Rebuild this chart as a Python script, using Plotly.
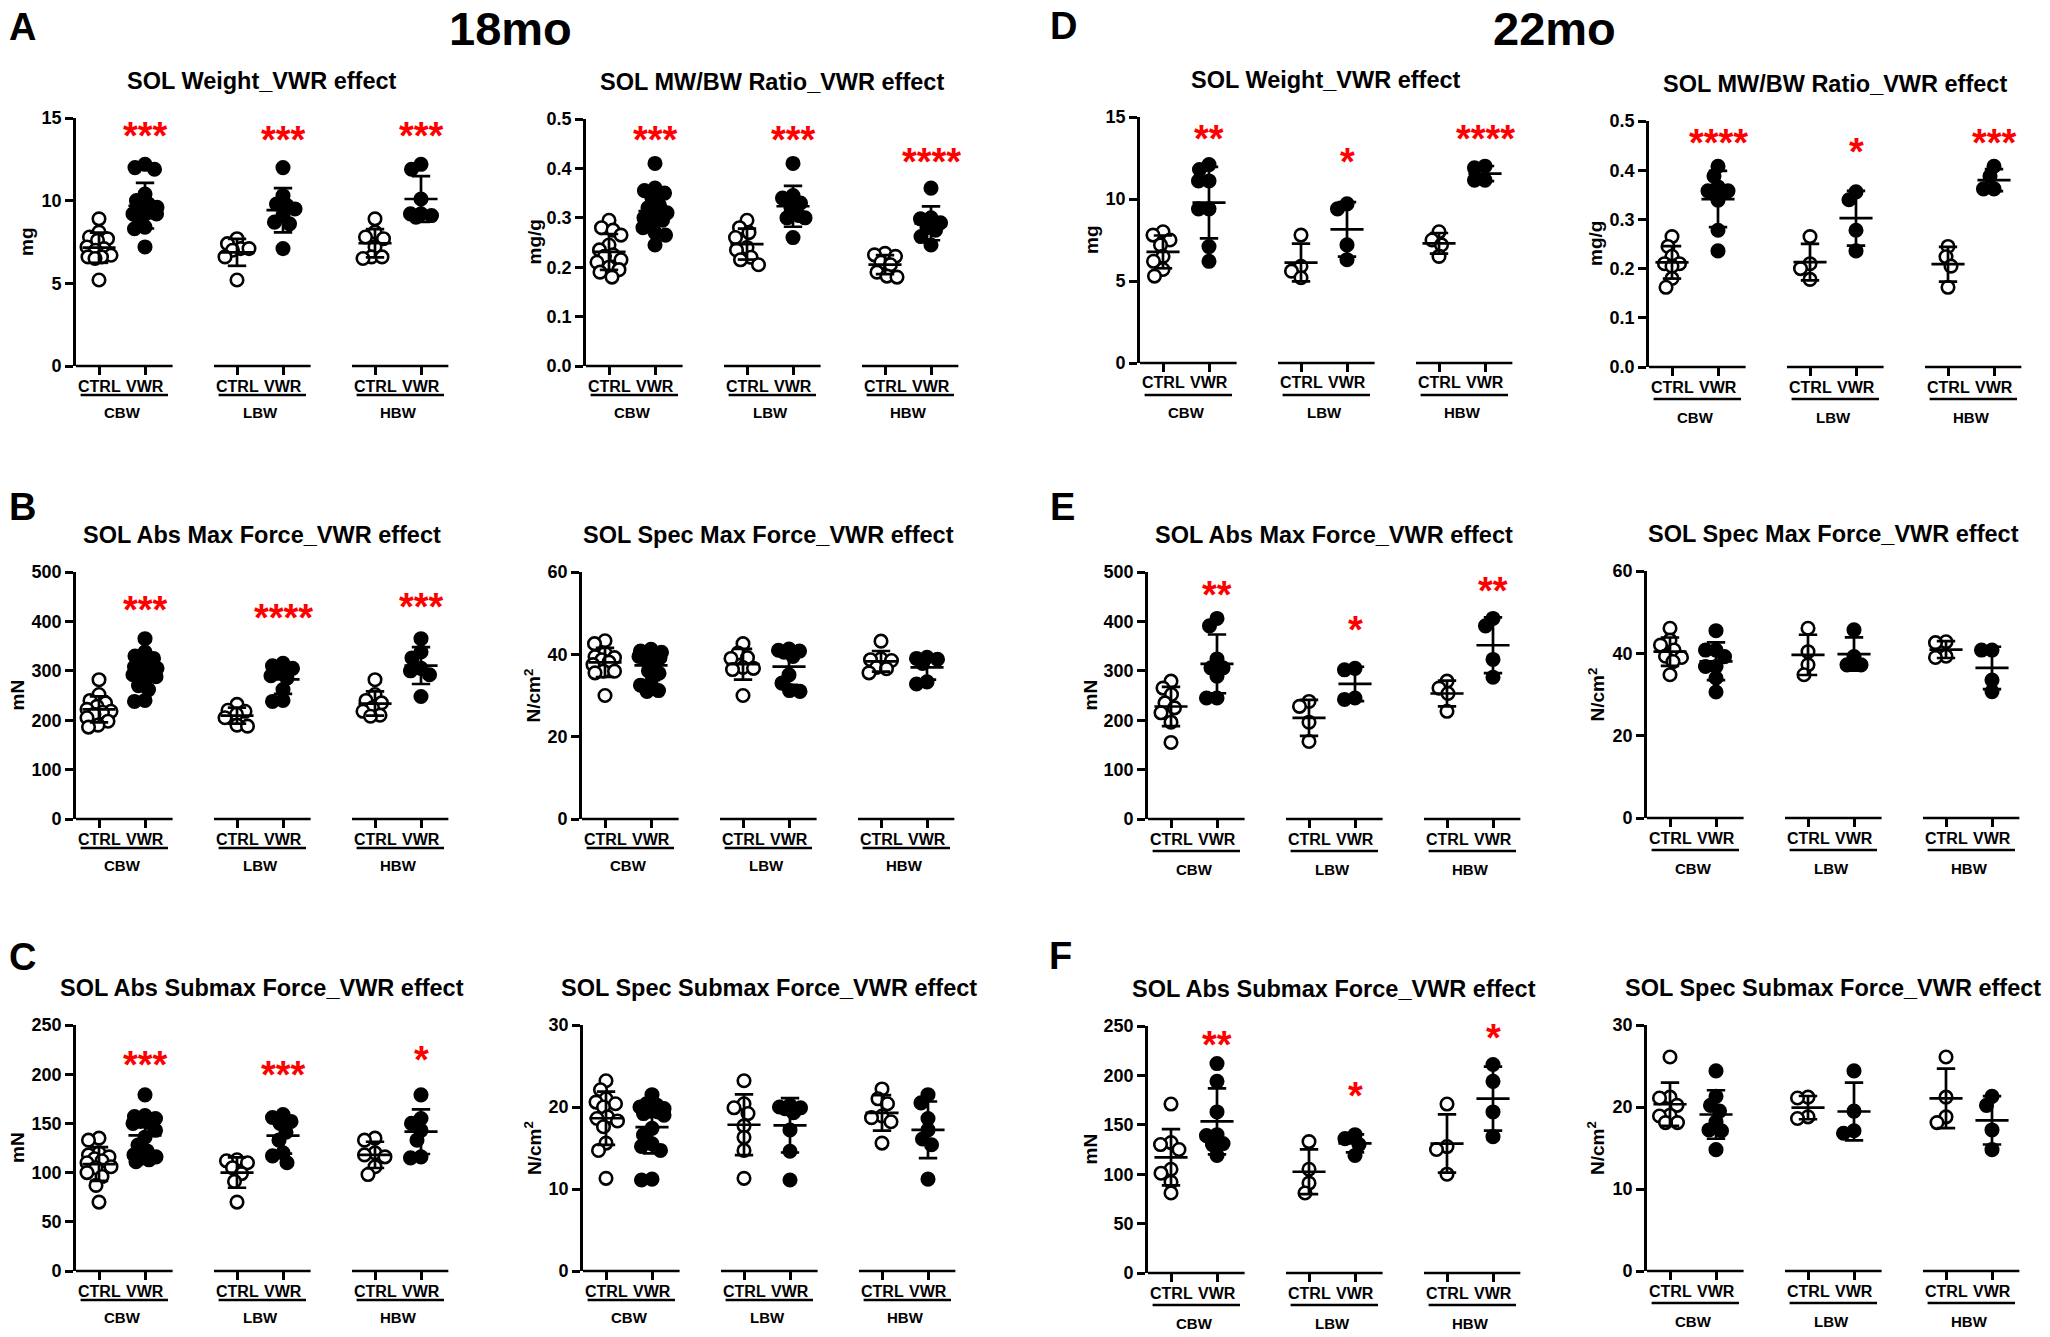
import numpy as np
import plotly.graph_objects as go

W, H = 2050, 1337
FONT = "Liberation Sans, Arial, sans-serif"

# ---------------- data ----------------
group_names = ["CBW", "LBW", "HBW"]
cond_names = ["CTRL", "VWR"]
# each list: CBW-CTRL, CBW-VWR, LBW-CTRL, LBW-VWR, HBW-CTRL, HBW-VWR

# 18 months
wt_18 = [[8.9, 8.1, 7.8, 7.7, 7.6, 7.2, 7.1, 7.0, 6.7, 6.6, 6.6, 6.5, 5.2],
         [12.2, 12.0, 11.9, 10.4, 10.0, 9.8, 9.6, 9.5, 9.3, 9.2, 9.2, 9.1, 9.0, 8.4, 8.3, 7.2],
         [7.7, 7.4, 7.1, 7.1, 7.0, 6.6, 5.2],
         [12.0, 10.3, 9.8, 9.7, 9.5, 9.1, 8.7, 8.6, 7.1],
         [8.9, 8.1, 7.8, 7.7, 7.2, 6.6, 6.6, 6.5],
         [12.2, 11.9, 10.1, 9.2, 9.1, 9.0, 9.2]]
ratio_18 = [[0.295, 0.28, 0.275, 0.265, 0.245, 0.235, 0.225, 0.222, 0.215, 0.21, 0.2, 0.195, 0.19, 0.18],
            [0.41, 0.36, 0.355, 0.35, 0.34, 0.325, 0.32, 0.31, 0.305, 0.3, 0.295, 0.29, 0.28, 0.27, 0.265, 0.245],
            [0.295, 0.28, 0.27, 0.26, 0.24, 0.235, 0.22, 0.215, 0.205],
            [0.41, 0.345, 0.34, 0.33, 0.32, 0.305, 0.3, 0.3, 0.26],
            [0.228, 0.225, 0.222, 0.21, 0.205, 0.19, 0.182, 0.18],
            [0.36, 0.3, 0.298, 0.29, 0.28, 0.275, 0.262, 0.245]]
absmax_18 = [[282, 252, 240, 235, 228, 222, 218, 216, 212, 205, 198, 190, 186],
             [365, 338, 330, 325, 312, 308, 305, 300, 298, 292, 288, 285, 270, 262, 240, 238],
             [232, 220, 218, 212, 205, 190, 188],
             [315, 310, 305, 300, 290, 285, 262, 240, 238],
             [282, 252, 240, 235, 225, 218, 210, 208],
             [365, 338, 326, 305, 300, 292, 248]]
specmax_18 = [[43.3, 42.6, 40.3, 39.4, 39.2, 38.7, 38.1, 37.5, 35.9, 35.9, 35.5, 30.0],
              [41.2, 40.8, 40.5, 40.3, 40.1, 39.8, 39.5, 39.2, 38.7, 38.2, 36.0, 35.4, 33.0, 32.5, 31.2, 31.0],
              [42.6, 40.3, 39.2, 39.0, 36.8, 36.6, 36.3, 30.0],
              [41.3, 41.0, 40.8, 40.5, 39.5, 35.0, 33.0, 31.2, 31.0],
              [43.2, 38.9, 38.7, 38.5, 36.8, 36.5, 35.5],
              [39.3, 39.0, 38.8, 37.8, 33.3, 32.8]]
abssub_18 = [[135, 133, 120, 118, 116, 114, 112, 110, 106, 105, 100, 96, 87, 70],
             [179, 158, 157, 155, 152, 151, 150, 143, 136, 128, 122, 118, 116, 115, 113, 111],
             [113, 112, 110, 105, 99, 91, 70],
             [159, 156, 152, 150, 141, 133, 120, 117, 110],
             [135, 133, 120, 118, 116, 106, 98],
             [179, 155, 150, 143, 133, 116, 115]]
specsub_18 = [[23.2, 22.1, 21.0, 20.6, 20.4, 20.0, 18.8, 18.6, 18.3, 17.6, 15.6, 14.7, 11.3],
              [21.5, 20.4, 20.2, 20.0, 19.8, 19.5, 19.4, 19.2, 19.0, 17.4, 16.6, 15.5, 15.2, 14.7, 11.2, 11.1],
              [23.2, 20.4, 19.9, 19.2, 17.7, 16.3, 14.7, 11.3],
              [20.2, 20.0, 19.9, 19.8, 19.3, 17.2, 14.6, 11.1],
              [22.2, 21.0, 20.4, 18.9, 18.7, 18.2, 15.6],
              [21.5, 20.5, 18.6, 17.2, 16.1, 15.4, 11.2]]

# 22 months
wt_22 = [[8.0, 7.8, 7.5, 7.2, 6.5, 6.2, 5.7, 5.3],
         [12.1, 11.8, 11.1, 11.1, 9.4, 9.4, 7.1, 6.2],
         [7.8, 5.9, 5.6, 5.2],
         [9.7, 9.4, 7.2, 6.3],
         [8.0, 7.5, 7.2, 6.5],
         [12.0, 11.9, 11.15, 11.15]]
ratio_22 = [[0.265, 0.245, 0.225, 0.21, 0.21, 0.205, 0.18, 0.162],
            [0.408, 0.388, 0.366, 0.358, 0.358, 0.339, 0.278, 0.236],
            [0.265, 0.21, 0.2, 0.178],
            [0.356, 0.34, 0.278, 0.236],
            [0.245, 0.224, 0.205, 0.162],
            [0.408, 0.388, 0.362, 0.362]]
absmax_22 = [[279, 265, 252, 235, 225, 215, 196, 155],
             [406, 391, 324, 306, 306, 289, 245, 245],
             [238, 228, 196, 157],
             [305, 302, 245, 242],
             [279, 265, 254, 218],
             [406, 391, 323, 287]]
specmax_22 = [[46.1, 43.2, 42.0, 40.8, 39.3, 39.0, 38.0, 34.8],
              [45.5, 40.8, 40.8, 39.2, 36.8, 36.8, 34.0, 30.6],
              [46.1, 40.4, 37.2, 34.8],
              [45.7, 39.2, 37.2, 37.2],
              [42.8, 42.6, 39.3, 39.0],
              [40.8, 40.8, 33.5, 30.7]]
abssub_22 = [[171, 132, 130, 125, 105, 101, 92, 81],
             [212, 194, 163, 140, 139, 131, 130, 119],
             [133, 105, 91, 81],
             [140, 136, 130, 119],
             [171, 128, 125, 100],
             [211, 194, 163, 138]]
specsub_22 = [[26.1, 21.2, 21.1, 20.2, 19.0, 18.9, 18.1, 18.1],
              [24.4, 21.3, 20.2, 19.5, 18.2, 17.2, 17.1, 14.8],
              [21.2, 21.1, 18.8, 18.6],
              [24.4, 19.5, 17.1, 16.8],
              [26.1, 21.2, 18.8, 18.1],
              [21.3, 20.2, 17.2, 14.8]]

# significance stars (above VWR of each body-weight group) and their heights
stars_wt_18 = ["***", "***", "***"];      stars_y_wt_18 = [14.2, 14.0, 14.2]
stars_ratio_18 = ["***", "***", "****"];  stars_y_ratio_18 = [0.468, 0.468, 0.424]
stars_absmax_18 = ["***", "****", "***"]; stars_y_absmax_18 = [434, 416, 439]
stars_abssub_18 = ["***", "***", "*"];    stars_y_abssub_18 = [214, 204, 220]
stars_wt_22 = ["**", "*", "****"];        stars_y_wt_22 = [13.98, 12.56, 13.98]
stars_ratio_22 = ["****", "*", "***"];    stars_y_ratio_22 = [0.466, 0.447, 0.466]
stars_absmax_22 = ["**", "*", "**"];      stars_y_absmax_22 = [464, 393, 472]
stars_abssub_22 = ["**", "*", "*"];       stars_y_abssub_22 = [236, 184.5, 243]

titles = ["SOL Weight_VWR effect", "SOL MW/BW Ratio_VWR effect",
          "SOL Abs Max Force_VWR effect", "SOL Spec Max Force_VWR effect",
          "SOL Abs Submax Force_VWR effect", "SOL Spec Submax Force_VWR effect"]
ytitles = ["mg", "mg/g", "mN", "N/cm<sup>2</sup>", "mN", "N/cm<sup>2</sup>"]
yaxis_max = [15, 0.5, 500, 60, 250, 30]
yaxis_dtick = [5, 0.1, 100, 20, 50, 10]
yaxis_fmt = ["d", ".1f", "d", "d", "d", "d"]

# ---------------- layout (pixel geometry) ----------------
# (left edge of plot, top, bottom, y-title offset, label column)
geom = [
    (76, 118, 366, 49, "L"), (586, 119, 366, 52, "L"),
    (76, 572, 819, 59, "L"), (582, 572, 819, 50, "L"),
    (76, 1025, 1271, 59, "L"), (583, 1025, 1271, 50, "L"),
    (1140, 117, 363, 48, "R"), (1649, 121, 367, 54, "R"),
    (1148, 572, 819, 58, "R"), (1647, 571, 818, 51, "R"),
    (1148, 1026, 1273, 58, "R"), (1647, 1025, 1271, 51, "R"),
]
panel_data = [wt_18, ratio_18, absmax_18, specmax_18, abssub_18, specsub_18,
              wt_22, ratio_22, absmax_22, specmax_22, abssub_22, specsub_22]
panel_stars = [(stars_wt_18, stars_y_wt_18), (stars_ratio_18, stars_y_ratio_18),
               (stars_absmax_18, stars_y_absmax_18), None,
               (stars_abssub_18, stars_y_abssub_18), None,
               (stars_wt_22, stars_y_wt_22), (stars_ratio_22, stars_y_ratio_22),
               (stars_absmax_22, stars_y_absmax_22), None,
               (stars_abssub_22, stars_y_abssub_22), None]

XUNIT = 46.0           # px per category unit
XR = [-0.5, 7.6]
SW_D = 10.5            # swarm spacing (px)
SW_MAX = 12.0          # max horizontal spread (px)


def swarm(vals, ppu_y, ppu_x, d, maxw):
    vals = np.asarray(vals, float)
    order = np.argsort(-vals, kind="stable")
    placed = []
    offs = np.zeros(len(vals))
    grid = sorted(np.arange(-maxw, maxw + 0.01, 0.5), key=lambda c: (abs(c), c))
    for idx in order:
        y = vals[idx] * ppu_y
        best, bestd = 0.0, -1.0
        for c in grid:
            md = min([np.hypot(c - px, y - py) for px, py in placed] + [1e9])
            if md >= d:
                best = c
                break
            if md > bestd + 1e-9:
                best, bestd = c, md
        placed.append((best, y))
        offs[idx] = best / ppu_x
    return offs


fig = go.Figure()
layout = dict(width=W, height=H, autosize=False,
              margin=dict(l=0, r=0, t=0, b=0, pad=0, autoexpand=False),
              paper_bgcolor="white", plot_bgcolor="white", showlegend=False,
              font=dict(family=FONT, color="black"))
shapes, annos = [], []

for i in range(12):
    kind = i % 6
    left, top, bottom, ytoff, col = geom[i]
    data = panel_data[i]
    ymax = yaxis_max[kind]
    xa = "x" if i == 0 else f"x{i+1}"
    ya = "y" if i == 0 else f"y{i+1}"
    ph = bottom - top
    ppu_y = ph / ymax
    width_px = (XR[1] - XR[0]) * XUNIT

    layout["xaxis" if i == 0 else f"xaxis{i+1}"] = dict(
        domain=[left / W, (left + width_px) / W], range=XR, anchor=ya,
        tickvals=[0, 1, 3, 4, 6, 7], ticks="outside", ticklen=8, tickwidth=2.7,
        tickcolor="black", showticklabels=False, showline=False, showgrid=False,
        zeroline=False, fixedrange=True)
    layout["yaxis" if i == 0 else f"yaxis{i+1}"] = dict(
        domain=[1 - bottom / H, 1 - top / H], range=[0, ymax], anchor=xa,
        dtick=yaxis_dtick[kind], tick0=0, tickformat=yaxis_fmt[kind],
        ticks="outside", ticklen=8, tickwidth=2.7, tickcolor="black",
        showline=True, linewidth=2.7, linecolor="black", showgrid=False,
        zeroline=False, fixedrange=True,
        tickfont=dict(size=18, family=FONT, color="black", weight="bold"))

    # points
    for gi, vals in enumerate(data):
        xc = 3 * (gi // 2) + (gi % 2)
        offs = swarm(vals, ppu_y, XUNIT, SW_D, SW_MAX)
        fig.add_trace(go.Scatter(
            x=xc + offs, y=vals, mode="markers", xaxis=xa, yaxis=ya,
            marker=dict(symbol="circle", size=12.5,
                        color="white" if gi % 2 == 0 else "black",
                        line=dict(color="black", width=2.6)),
            cliponaxis=False, hoverinfo="skip", showlegend=False))

    # mean +/- SD
    ex, ey = [], []
    for gi, vals in enumerate(data):
        xc = 3 * (gi // 2) + (gi % 2)
        m = float(np.mean(vals))
        s = float(np.std(vals, ddof=1))
        ex += [xc, xc, None, xc - 0.36, xc + 0.36, None,
               xc - 0.2, xc + 0.2, None, xc - 0.2, xc + 0.2, None]
        ey += [m - s, m + s, None, m, m, None,
               m + s, m + s, None, m - s, m - s, None]
    fig.add_trace(go.Scatter(x=ex, y=ey, mode="lines", xaxis=xa, yaxis=ya,
                             line=dict(color="black", width=2.7),
                             cliponaxis=False, hoverinfo="skip", showlegend=False))

    # broken x axis segments, underline, labels
    ul_off = 29 if col == "L" else 32
    gl_off = 46 if col == "L" else 50
    for g in range(3):
        shapes.append(dict(type="line", xref=xa, yref=f"{ya} domain",
                           x0=3 * g - 0.5, x1=3 * g + 1.6, y0=0, y1=0,
                           line=dict(color="black", width=2.7)))
        shapes.append(dict(type="line", xref=xa, yref=f"{ya} domain",
                           x0=3 * g - 0.4, x1=3 * g + 1.5,
                           y0=-ul_off / ph, y1=-ul_off / ph,
                           line=dict(color="black", width=2.7)))
        for c in range(2):
            annos.append(dict(text=cond_names[c], xref=xa, yref=f"{ya} domain",
                              x=3 * g + c, y=0, yshift=-20, yanchor="middle",
                              xanchor="center", showarrow=False,
                              font=dict(size=16, family=FONT, color="black", weight="bold")))
        annos.append(dict(text=group_names[g], xref=xa, yref=f"{ya} domain",
                          x=3 * g + 0.5, y=0, yshift=-gl_off, yanchor="middle",
                          xanchor="center", showarrow=False,
                          font=dict(size=15, family=FONT, color="black", weight="bold")))

    # stars
    if panel_stars[i] is not None:
        st, sy = panel_stars[i]
        for g in range(3):
            annos.append(dict(text=st[g], xref=xa, yref=ya, x=3 * g + 1, y=sy[g],
                              yshift=-5, yanchor="middle", xanchor="center",
                              showarrow=False,
                              font=dict(size=38, family=FONT, color="#ff0000", weight="bold")))

    # title
    annos.append(dict(text=titles[kind], xref=f"{xa} domain", yref=f"{ya} domain",
                      x=0.5, y=1, yshift=37, xanchor="center", yanchor="middle",
                      showarrow=False,
                      font=dict(size=23.5, family=FONT, color="black", weight="bold")))
    # y title
    annos.append(dict(text=ytitles[kind], xref=f"{xa} domain", yref=f"{ya} domain",
                      x=0, xshift=-ytoff, y=0.5, textangle=-90, xanchor="center",
                      yanchor="middle", showarrow=False,
                      font=dict(size=19, family=FONT, color="black", weight="bold")))

# panel letters and age headers
for txt, px, py in [("A", 22, 27), ("B", 22, 507), ("C", 22, 957),
                    ("D", 1063, 26), ("E", 1062, 507), ("F", 1060, 956)]:
    annos.append(dict(text=txt, xref="paper", yref="paper", x=px / W, y=1 - py / H,
                      xanchor="center", yanchor="middle", showarrow=False,
                      font=dict(size=38, family=FONT, color="black", weight="bold")))
for txt, px in [("18mo", 510), ("22mo", 1554)]:
    annos.append(dict(text=txt, xref="paper", yref="paper", x=px / W, y=1,
                      xanchor="center", yanchor="top", showarrow=False,
                      font=dict(size=47, family=FONT, color="black", weight="bold")))

layout["shapes"] = shapes
layout["annotations"] = annos
fig.update_layout(**layout)
fig.write_html(
    "out.html", config={"displayModeBar": False, "responsive": False},
    post_script=("document.documentElement.style.margin='0';"
                 "document.body.style.margin='0';document.body.style.padding='0';"
                 "document.documentElement.style.overflow='hidden';"
                 "document.body.style.overflow='hidden';"
                 "var _d=document.getElementById('{plot_id}');"
                 "_d.style.position='fixed';_d.style.left='0px';_d.style.top='0px';"))
